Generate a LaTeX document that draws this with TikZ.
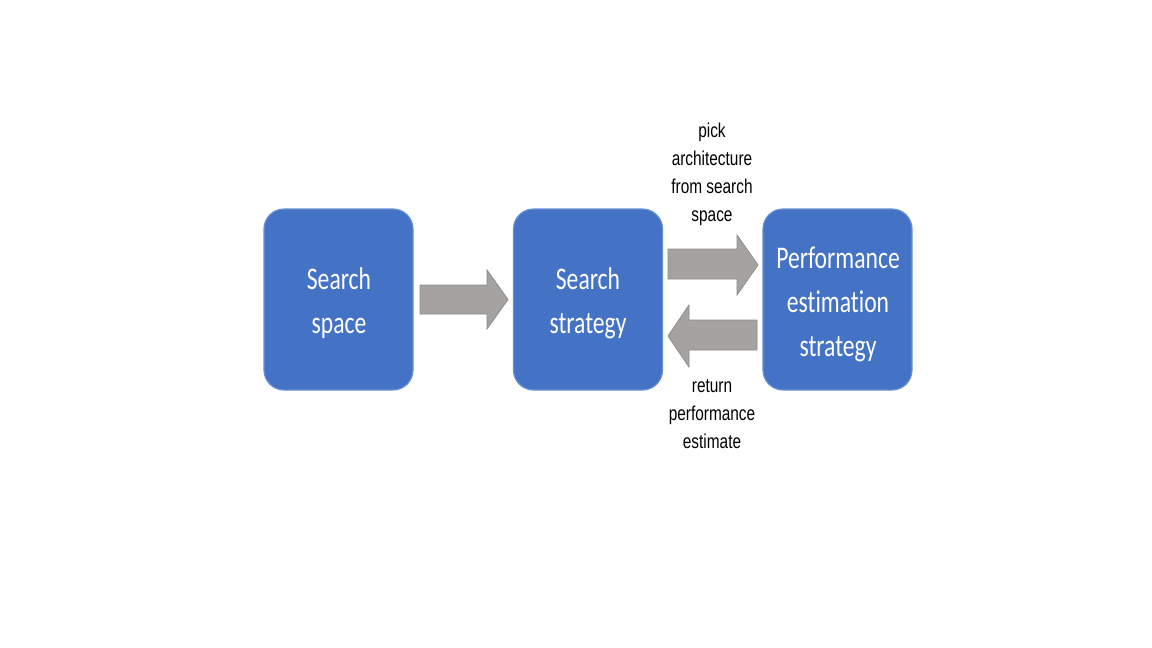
\documentclass[tikz,border=0pt]{standalone}
\usepackage{fontspec}
\setmainfont{Carlito}
\newfontfamily\boxfont[FakeStretch=0.75,Ligatures=NoCommon]{Carlito}
\newfontfamily\lab[FakeStretch=0.77]{Liberation Sans}
\begin{document}
\begin{tikzpicture}[x=1pt,y=-1pt,
  box/.style={draw=boxedge,fill=boxfill,line width=1.2pt,rounded corners=20pt,
    minimum width=149pt,minimum height=181pt,inner sep=0pt},
  boxtext/.style={text=white,align=center,font=\boxfont\fontsize{31.5}{44}\selectfont},
  labtext/.style={align=center,font=\lab\fontsize{20}{28}\selectfont},
  blockarrow/.style={fill=arrowfill,draw=arrowedge,line width=0.8pt,line join=miter}]
\definecolor{boxfill}{HTML}{4472C4}
\definecolor{boxedge}{HTML}{6890D6}
\definecolor{arrowfill}{HTML}{A5A3A2}
\definecolor{arrowedge}{HTML}{8E8C8B}
\useasboundingbox[fill=white] (0,0) rectangle (1152,648);
\node[box] (b1) at (338.5,299.5) {};
\node[box] (b2) at (588,299.5) {};
\node[box] (b3) at (837.5,299.5) {};
\node[boxtext] (t1) at (339,303) {Search\\space};
\node[boxtext] (t2) at (588,303) {Search\\strategy};
\node[boxtext] (t3) at (838,304) {Performance\\estimation\\strategy};
% arrow search space -> search strategy
\draw[blockarrow] (420,285) -- (487,285) -- (487,270) -- (508,299.5) -- (487,329) -- (487,314) -- (420,314) -- cycle;
% arrow search strategy -> performance estimation
\draw[blockarrow] (668,249) -- (737,249) -- (737,235) -- (758,265) -- (737,295) -- (737,279) -- (668,279) -- cycle;
% arrow performance estimation -> search strategy
\draw[blockarrow] (757,320) -- (689,320) -- (689,305) -- (668,336) -- (689,367) -- (689,350) -- (757,350) -- cycle;
\node[labtext] (l1) at (712,174) {pick\\architecture\\from search\\space};
\node[labtext] (l2) at (712,414) {return\\performance\\estimate};
\end{tikzpicture}
\end{document}
